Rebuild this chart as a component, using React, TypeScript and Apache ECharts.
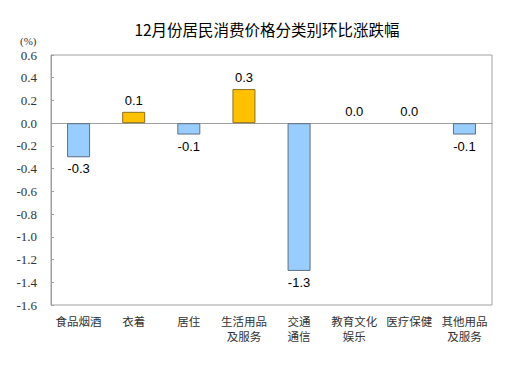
import React, { useEffect, useRef } from "react";
import * as echarts from "echarts";

const title = "12月份居民消费价格分类别环比涨跌幅";
const categories = [
  "食品烟酒",
  "衣着",
  "居住",
  "生活用品\n及服务",
  "交通\n通信",
  "教育文化\n娱乐",
  "医疗保健",
  "其他用品\n及服务",
];
const values = [-0.3, 0.1, -0.1, 0.3, -1.3, 0.0, 0.0, -0.1];
const yMin = -1.6;
const yMax = 0.6;
const yInterval = 0.2;
const unitLabel = "(%)";

export default function App() {
  const ref = useRef<HTMLDivElement>(null);
  useEffect(() => {
    if (!ref.current) return;
    const chart = echarts.init(ref.current, undefined, { renderer: "svg" });
    const data = values.map((v) => {
      const neg = v < 0;
      return {
        value: v,
        itemStyle: {
          color: neg ? "#99CCFF" : "#FFC000",
          borderColor: neg ? "#5f6f80" : "#8a7020",
          borderWidth: v === 0 ? 0 : 1,
        },
        label: { position: neg ? "bottom" : "top" },
      };
    });
    chart.setOption({
      animation: false,
      backgroundColor: "#ffffff",
      title: {
        text: title,
        left: 262,
        textAlign: "center",
        top: 16,
        textStyle: {
          fontFamily: "Noto Sans CJK SC",
          fontSize: 15.5,
          fontWeight: "normal",
          color: "#000",
        },
      },
      graphic: [
        {
          type: "text",
          left: 20,
          top: 35,
          style: {
            text: unitLabel,
            fontFamily: "Liberation Serif",
            fontSize: 11,
            fill: "#333",
          },
        },
      ],
      grid: {
        left: 51,
        right: 28,
        top: 55,
        bottom: 67,
        show: true,
        borderColor: "#a0a0a0",
        borderWidth: 1,
        containLabel: false,
      },
      xAxis: {
        type: "category",
        data: categories,
        axisLine: { onZero: true, lineStyle: { color: "#a0a0a0", width: 1 } },
        axisTick: { show: false },
        axisLabel: {
          interval: 0,
          margin: 8,
          fontFamily: "Noto Sans CJK SC",
          fontSize: 11.5,
          color: "#333",
          lineHeight: 15,
          verticalAlign: "top",
        },
        position: "bottom",
      },
      yAxis: {
        type: "value",
        min: yMin,
        max: yMax,
        interval: yInterval,
        axisLine: { show: true, lineStyle: { color: "#a0a0a0" } },
        axisTick: { show: true, inside: true, length: 3, lineStyle: { color: "#a0a0a0" } },
        splitLine: { show: false },
        axisLabel: {
          formatter: (v: number) => v.toFixed(1),
          fontFamily: "'Liberation Serif', 'Times New Roman', serif",
          fontSize: 13,
          color: "#333",
          margin: 14,
        },
      },
      series: [
        {
          type: "bar",
          data,
          barWidth: 23,
          label: {
            show: true,
            formatter: (p: any) => Number(p.value).toFixed(1),
            fontFamily: "Liberation Sans",
            fontSize: 13,
            color: "#000",
            distance: 5,
          },
        },
      ],
    });
    return () => chart.dispose();
  }, []);
  return <div ref={ref} style={{ width: 520, height: 372, margin: -8 }} />;
}
